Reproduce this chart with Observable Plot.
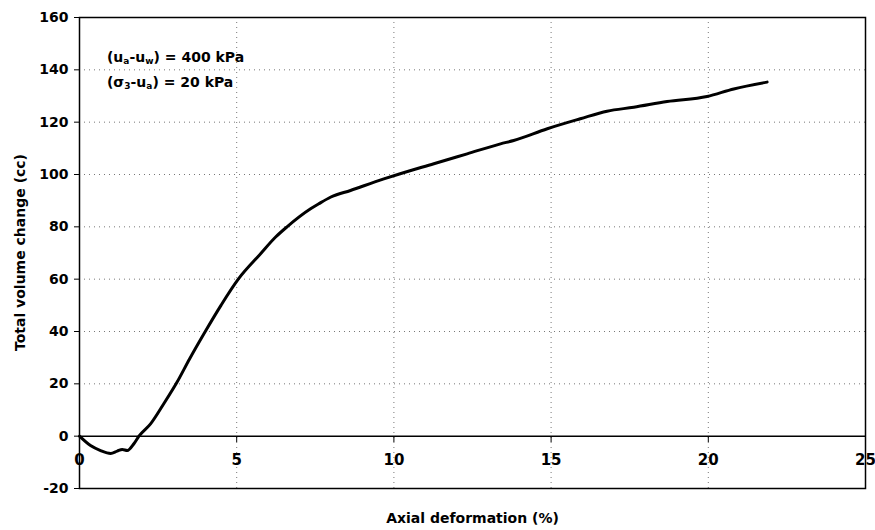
<!DOCTYPE html>
<html>
<head>
<meta charset="utf-8">
<script src="https://cdn.jsdelivr.net/npm/d3@7"></script>
<script src="https://cdn.jsdelivr.net/npm/@observablehq/plot@0.6"></script>
<style>
  html, body { margin: 0; padding: 0; background: #fff; }
  #chart svg { display: block; }
</style>
</head>
<body>
<div id="chart"></div>
<script>
// Axial deformation (%)
const axialStrain = [0, 0.35, 0.67, 0.99, 1.2, 1.36, 1.52, 1.73, 1.89, 2.26, 2.68, 3.1, 3.5, 4.0, 4.5, 5.05, 5.76, 6.23, 6.6, 7.35, 7.61, 7.98, 8.62, 9.68, 10.2, 11.27, 12.33, 13.39, 13.81, 14.88, 15.93, 16.78, 17.63, 18.69, 19.96, 20.81, 21.87];
// Total volume change (cc)
const volumeChange = [0, -3.6, -5.5, -6.6, -5.7, -5.1, -5.5, -2.9, 0, 4.7, 12.4, 20.6, 29.5, 40, 50, 60, 69.7, 76, 80, 86.9, 88.8, 91.3, 93.9, 98.3, 100.3, 104.1, 107.9, 111.7, 113, 117.5, 121.3, 124.2, 125.7, 127.9, 129.8, 132.7, 135.3];

const xTicks = [0, 5, 10, 15, 20, 25];
const yTicks = [-20, 0, 20, 40, 60, 80, 100, 120, 140, 160];
const xGrid = [5, 10, 15, 20];
const yGrid = [20, 40, 60, 80, 100, 120, 140];
const xTitle = "Axial deformation (%)";
const yTitle = "Total volume change (cc)";

const FONT = "'DejaVu Sans', Verdana, sans-serif";
const data = axialStrain.map((x, i) => ({x, y: volumeChange[i]}));

const plot = Plot.plot({
  width: 875,
  height: 530,
  marginLeft: 79,
  marginRight: 10,
  marginTop: 17,
  marginBottom: 42,
  style: {fontFamily: FONT, fontSize: "14px", fontWeight: "bold", color: "black", background: "white"},
  x: {domain: [0, 25]},
  y: {domain: [-20, 160]},
  marks: [
    Plot.gridX(xGrid, {stroke: "#777", strokeOpacity: 1, strokeDasharray: "1,4", strokeWidth: 1}),
    Plot.gridY(yGrid, {stroke: "#777", strokeOpacity: 1, strokeDasharray: "1,4", strokeWidth: 1}),
    Plot.ruleY([0], {stroke: "black", strokeWidth: 1.5}),
    Plot.axisY(yTicks, {tickSize: 5, tickPadding: 6, label: null, tickFormat: d => String(d), stroke: "black", fill: "black", fontSize: 14}),
    Plot.axisX(xTicks, {tickSize: 6, tickPadding: 12, label: null, tickFormat: d => String(d), dy: -52, stroke: "black", fill: "black", fontSize: 15}),
    Plot.frame({stroke: "black", strokeWidth: 1.5}),
    Plot.line(data, {x: "x", y: "y", stroke: "black", strokeWidth: 3, curve: "monotone-x"}),
    Plot.text([xTitle], {frameAnchor: "bottom", dy: 34, text: d => d, fontSize: 14, fontWeight: "bold", fill: "black"})
  ]
});

document.getElementById("chart").appendChild(plot);

const svg = d3.select(plot);
const xs = plot.scale("x"), ys = plot.scale("y");

// Y axis title (rotated)
const yMid = (ys.apply(-20) + ys.apply(160)) / 2;
svg.append("text")
  .attr("transform", `translate(20,${yMid}) rotate(-90)`)
  .attr("text-anchor", "middle")
  .attr("dy", "0.35em")
  .attr("font-family", FONT)
  .attr("font-size", 14)
  .attr("font-weight", "bold")
  .attr("fill", "black")
  .text(yTitle);

// Annotation with subscripts
const annX = xs.apply(0.89);
const lines = [
  {y: 144.7, parts: [["(u", 0], ["a", 1], ["-u", 0], ["w", 1], [") = 400 kPa", 0]]},
  {y: 135, parts: [["(σ", 0], ["3", 1], ["-u", 0], ["a", 1], [") = 20 kPa", 0]]}
];
for (const l of lines) {
  const t = svg.append("text")
    .attr("x", annX)
    .attr("y", ys.apply(l.y))
    .attr("dy", "0.35em")
    .attr("text-anchor", "start")
    .attr("font-family", FONT)
    .attr("font-size", 14)
    .attr("font-weight", "bold")
    .attr("fill", "black");
  for (const [s, sub] of l.parts) {
    const ts = t.append("tspan").text(s);
    if (sub) ts.attr("font-size", 9).attr("baseline-shift", "-25%");
  }
}
</script>
</body>
</html>
